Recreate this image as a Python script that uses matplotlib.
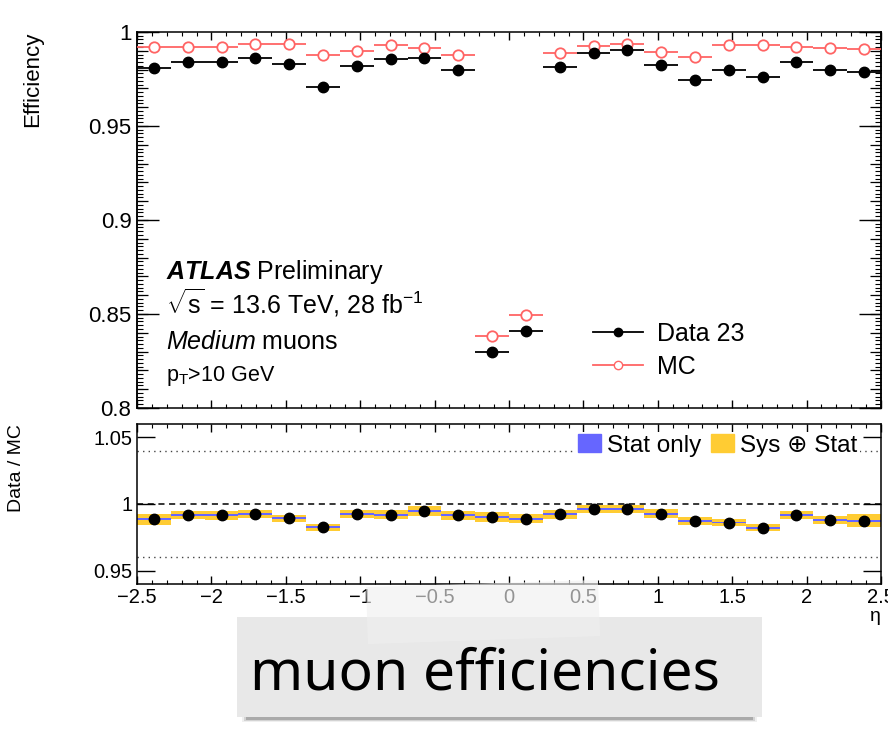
import numpy as np
import matplotlib
matplotlib.use('Agg')
import matplotlib.pyplot as plt
import matplotlib.ticker as mticker
from matplotlib.lines import Line2D
from matplotlib.patches import Patch, Rectangle, Polygon

plt.rcParams['font.family'] = ['Liberation Sans', 'DejaVu Sans']
plt.rcParams['mathtext.fontset'] = 'custom'
plt.rcParams['mathtext.rm'] = 'Liberation Sans'
plt.rcParams['mathtext.it'] = 'Liberation Sans:italic'
plt.rcParams['mathtext.bf'] = 'Liberation Sans:bold'
plt.rcParams['mathtext.bfit'] = 'Liberation Sans:italic:bold'
plt.rcParams['axes.linewidth'] = 1.1

# --- data: 22 eta bins from -2.5 to 2.5 ---
eta_edges = [-2.5, -2.273, -2.045, -1.818, -1.591, -1.364, -1.136, -0.909, -0.682,
             -0.455, -0.227, 0.0, 0.227, 0.455, 0.682, 0.909, 1.136, 1.364, 1.591,
             1.818, 2.045, 2.273, 2.5]
eff_data = [0.9807, 0.9839, 0.9839, 0.9863, 0.9830, 0.9707, 0.9821, 0.9858, 0.9863,
            0.9799, 0.8296, 0.8411, 0.9814, 0.9887, 0.9903, 0.9824, 0.9745, 0.9796,
            0.9761, 0.9839, 0.9796, 0.9787]
eff_mc = [0.9919, 0.9919, 0.9920, 0.9935, 0.9935, 0.9876, 0.9897, 0.9932, 0.9916,
          0.9879, 0.8381, 0.8496, 0.9888, 0.9924, 0.9936, 0.9892, 0.9869, 0.9932,
          0.9932, 0.9920, 0.9916, 0.9910]
ratio = [0.9886, 0.9916, 0.9916, 0.9925, 0.9893, 0.9826, 0.9925, 0.9920, 0.9948,
         0.9916, 0.9903, 0.9890, 0.9923, 0.9960, 0.9965, 0.9928, 0.9873, 0.9861,
         0.9823, 0.9916, 0.9878, 0.9875]
sys_err = [0.0040, 0.0032, 0.0035, 0.0031, 0.0025, 0.0026, 0.0031, 0.0035, 0.0035,
           0.0035, 0.0040, 0.0035, 0.0035, 0.0030, 0.0030, 0.0032, 0.0027, 0.0025,
           0.0027, 0.0031, 0.0031, 0.0050]
stat_err = [0.0008, 0.0007, 0.0007, 0.0007, 0.0007, 0.0007, 0.0007, 0.0007, 0.0007,
            0.0007, 0.0008, 0.0008, 0.0007, 0.0007, 0.0007, 0.0007, 0.0007, 0.0007,
            0.0007, 0.0007, 0.0007, 0.0008]

edges = np.array(eta_edges)
centers = 0.5 * (edges[1:] + edges[:-1])
half_w = 0.5 * (edges[1:] - edges[:-1])
ratio = np.array(ratio)
sys_err = np.array(sys_err)
stat_err = np.array(stat_err)

red = '#ff6464'
yellow = '#ffcc33'
blue = '#6666ff'

fig = plt.figure(figsize=(8.88, 7.38), dpi=100)
ax = fig.add_axes([0.1543, 0.4472, 0.8378, 0.5095])
rax = fig.add_axes([0.1543, 0.2087, 0.8378, 0.2168])

# --- top panel ---
ax.errorbar(centers, eff_mc, xerr=half_w, fmt='o', color=red, mfc='white', mec=red,
            mew=1.3, ms=7.5, elinewidth=1.3, capsize=0, zorder=3)
ax.errorbar(centers, eff_data, xerr=half_w, fmt='o', color='black', ms=7.5,
            elinewidth=1.3, capsize=0, zorder=4)
ax.set_xlim(-2.5, 2.5)
ax.set_ylim(0.8, 1.0)
ax.yaxis.set_major_locator(mticker.MultipleLocator(0.05))
ax.yaxis.set_minor_locator(mticker.MultipleLocator(0.002))
ax.xaxis.set_major_locator(mticker.MultipleLocator(0.5))
ax.xaxis.set_minor_locator(mticker.MultipleLocator(0.1))
ax.yaxis.set_major_formatter(mticker.FuncFormatter(lambda v, p: f'{v:g}'))
ax.tick_params(which='both', direction='in', top=True, right=True, labelbottom=False,
               labelsize=16, pad=4)
ax.tick_params(axis='y', which='major', length=16, width=1)
ax.tick_params(axis='y', which='minor', length=4, width=0.8)
ax.tick_params(axis='x', which='major', length=6, width=1)
ax.tick_params(axis='x', which='minor', length=3, width=0.8)
for side in ['left', 'right']:
    sec = ax.secondary_yaxis(side)
    sec.yaxis.set_major_locator(mticker.MultipleLocator(0.01))
    sec.yaxis.set_minor_locator(mticker.NullLocator())
    sec.tick_params(direction='in', length=8, width=0.9, labelleft=False, labelright=False)
ax.set_ylabel('Efficiency', loc='top', fontsize=16)
ax.yaxis.set_label_coords(-0.126, 1.0)

tx = 0.039
ax.text(tx, 0.342, r'$\mathbfit{ATLAS}$ Preliminary', transform=ax.transAxes, fontsize=18)
ax.text(tx, 0.250, r'$\sqrt{\mathregular{s}}$ = 13.6 TeV, 28 fb$^{-1}$',
        transform=ax.transAxes, fontsize=18)
ax.text(tx, 0.157, r'$\mathit{Medium}$ muons', transform=ax.transAxes, fontsize=18)
ax.text(tx, 0.073, r'p$_{\mathregular{T}}$>10 GeV', transform=ax.transAxes, fontsize=15.5)

handles = [Line2D([], [], color='black', marker='o', ms=6, lw=1.3),
           Line2D([], [], color=red, marker='o', ms=6, mfc='white', mec=red, lw=1.3)]
ax.legend(handles, ['Data 23', 'MC'], loc='upper left', bbox_to_anchor=(0.6, 0.255),
          frameon=False, fontsize=18, handlelength=2.0, handletextpad=0.55,
          labelspacing=0.35, borderaxespad=0)

# --- ratio panel ---
rax.bar(centers, 2 * sys_err, bottom=ratio - sys_err, width=2 * half_w, color=yellow,
        linewidth=0, zorder=1)
rax.bar(centers, 2 * stat_err, bottom=ratio - stat_err, width=2 * half_w, color=blue,
        linewidth=0, zorder=2)
rax.axhline(1.0, color='black', ls=(0, (4, 3)), lw=1.1, zorder=0)
rax.axhline(1.04, color='#444444', ls=(0, (1, 3)), lw=1.0, zorder=0)
rax.axhline(0.96, color='#444444', ls=(0, (1, 3)), lw=1.0, zorder=0)
rax.plot(centers, ratio, 'o', color='black', ms=7.5, zorder=3)
rax.set_xlim(-2.5, 2.5)
rax.set_ylim(0.94, 1.06)
rax.set_yticks([0.95, 1.0, 1.05])
rax.set_yticklabels(['0.95', '1', '1.05'])
rax.xaxis.set_major_locator(mticker.MultipleLocator(0.5))
rax.xaxis.set_minor_locator(mticker.MultipleLocator(0.1))
rax.xaxis.set_major_formatter(mticker.FuncFormatter(lambda v, p: f'{v:g}'.replace('-', '\u2212')))
rax.tick_params(which='both', direction='in', top=True, right=True, labelsize=14.5, pad=3)
rax.tick_params(axis='y', which='major', length=13, width=1)
rax.tick_params(axis='x', which='major', length=6, width=1)
rax.tick_params(axis='x', which='minor', length=3, width=0.8)
rax.set_ylabel('Data / MC', loc='top', fontsize=14)
rax.yaxis.set_label_coords(-0.151, 1.0)
rax.set_xlabel('\u03b7', loc='right', fontsize=14)
rax.xaxis.set_label_coords(1.0, -0.15)

lh = [Patch(color=blue), Patch(color=yellow)]
leg = rax.legend(lh, ['Stat only', 'Sys \u2295 Stat'], ncol=2, loc='upper right',
                 bbox_to_anchor=(0.972, 0.95), fontsize=17.5, handlelength=0.95,
                 handleheight=0.75, handletextpad=0.25, columnspacing=0.4,
                 frameon=True, fancybox=False, framealpha=1, edgecolor='none',
                 borderpad=0.1, borderaxespad=0)
leg.get_frame().set_linewidth(0)

# --- sticker label below the chart ---
W, H = 888.0, 738.0
def fx(px):
    return px / W
def fy(py):
    return 1 - py / H

for k, a in enumerate([0.08, 0.15, 0.25]):
    fig.patches.append(Rectangle((fx(242 + 2 * k), fy(722 - k)), fx(515 - 4 * k), 100 / H,
                                 transform=fig.transFigure, color='#333333', alpha=a,
                                 lw=0, zorder=5))
fig.patches.append(Rectangle((fx(237), fy(717)), fx(525), 100 / H,
                             transform=fig.transFigure, color='#e8e8e8', lw=0, zorder=6))
fig.text(fx(485), fy(690), 'muon efficiencies', ha='center', va='baseline',
         fontsize=41, family='Noto Sans', zorder=7)

tape = [(fx(366), fy(587)), (fx(598), fy(580)), (fx(600), fy(636)), (fx(368), fy(644))]
fig.patches.append(Polygon(tape, closed=True, transform=fig.transFigure,
                           facecolor='#f0f0f0', alpha=0.62, lw=0, zorder=8))

fig.savefig('out.png', dpi=100)
